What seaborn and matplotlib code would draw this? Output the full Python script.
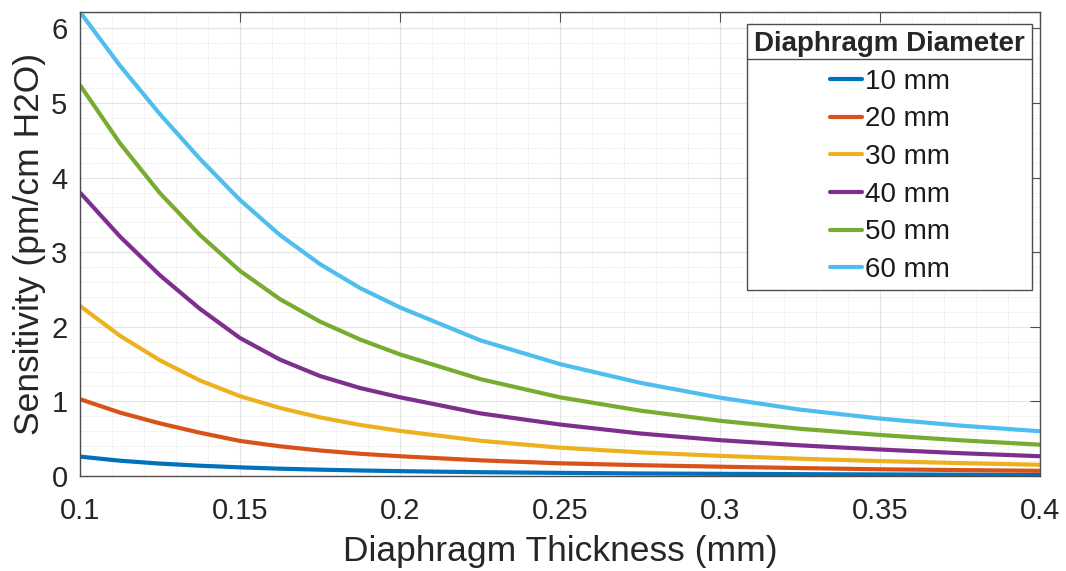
import numpy as np
import pandas as pd
import matplotlib
matplotlib.use("Agg")
import matplotlib.pyplot as plt
import seaborn as sns
from matplotlib.lines import Line2D
from matplotlib.ticker import MultipleLocator, FixedLocator, FixedFormatter

# ---- data ----
thickness = [0.1, 0.1125, 0.125, 0.1375, 0.15, 0.1625, 0.175, 0.1875, 0.2,
             0.225, 0.25, 0.275, 0.3, 0.325, 0.35, 0.375, 0.4]
sens_10mm = [0.26, 0.205, 0.166, 0.138, 0.116, 0.098, 0.085, 0.074, 0.065,
             0.051, 0.042, 0.034, 0.029, 0.025, 0.021, 0.018, 0.016]
sens_20mm = [1.03, 0.85, 0.705, 0.58, 0.47, 0.398, 0.342, 0.298, 0.265,
             0.21, 0.17, 0.145, 0.125, 0.106, 0.09, 0.079, 0.07]
sens_30mm = [2.28, 1.88, 1.55, 1.28, 1.07, 0.912, 0.786, 0.685, 0.605,
             0.473, 0.38, 0.317, 0.27, 0.232, 0.20, 0.173, 0.15]
sens_40mm = [3.80, 3.21, 2.69, 2.24, 1.85, 1.56, 1.34, 1.18, 1.055,
             0.84, 0.69, 0.57, 0.48, 0.411, 0.355, 0.306, 0.265]
sens_50mm = [5.24, 4.46, 3.79, 3.23, 2.75, 2.37, 2.07, 1.83, 1.63,
             1.30, 1.055, 0.877, 0.74, 0.633, 0.55, 0.479, 0.42]
sens_60mm = [6.22, 5.50, 4.85, 4.25, 3.70, 3.23, 2.84, 2.52, 2.26,
             1.82, 1.50, 1.25, 1.05, 0.89, 0.77, 0.676, 0.60]
diameter_labels = ["10 mm", "20 mm", "30 mm", "40 mm", "50 mm", "60 mm"]
x_tick_values = [0.1, 0.15, 0.2, 0.25, 0.3, 0.35, 0.4]
x_tick_labels = ["0.1", "0.15", "0.2", "0.25", "0.3", "0.35", "0.4"]
y_tick_values = [0, 1, 2, 3, 4, 5, 6]

series = [sens_10mm, sens_20mm, sens_30mm, sens_40mm, sens_50mm, sens_60mm]
df = pd.concat(
    [pd.DataFrame({"t": thickness, "s": vals, "d": lab})
     for vals, lab in zip(series, diameter_labels)],
    ignore_index=True,
)

palette = ["#0072BD", "#D95319", "#EDB120", "#7E2F8E", "#77AC30", "#4DBEEE"]

sns.set_style("white")
plt.rcParams["font.family"] = ["Liberation Sans", "DejaVu Sans"]

fig = plt.figure(figsize=(10.66, 5.71), dpi=100)
ax = fig.add_axes([80 / 1066, 1 - 476 / 571, 960 / 1066, 464 / 571])

sns.lineplot(data=df, x="t", y="s", hue="d", palette=palette,
             linewidth=3, ax=ax, legend=False, sort=False)
for ln in ax.get_lines():
    ln.set_solid_joinstyle("round")
    ln.set_solid_capstyle("butt")

ax.set_xlim(0.1, 0.4)
ax.set_ylim(0, 6.22)
ax.xaxis.set_major_locator(FixedLocator(x_tick_values))
ax.xaxis.set_major_formatter(FixedFormatter(x_tick_labels))
ax.yaxis.set_major_locator(FixedLocator(y_tick_values))
ax.xaxis.set_minor_locator(MultipleLocator(0.01))
ax.yaxis.set_minor_locator(MultipleLocator(0.2))

ax.grid(which="major", color="#262626", alpha=0.12, linewidth=0.8, linestyle="-")
ax.grid(which="minor", color="#262626", alpha=0.15, linewidth=0.6, linestyle=":")
ax.set_axisbelow(True)

for sp in ax.spines.values():
    sp.set_visible(True)
    sp.set_color("#4d4d4d")
    sp.set_linewidth(1.0)

ax.tick_params(which="major", direction="in", length=7, width=0.8,
               color="#4d4d4d", labelsize=21, labelcolor="#262626",
               top=True, right=True)
ax.tick_params(axis="x", which="major", pad=15)
ax.tick_params(axis="y", which="major", pad=9)
ax.tick_params(which="minor", length=0, top=True, right=True)

ax.set_xlabel("Diaphragm Thickness (mm)", fontsize=25.5, color="#262626", labelpad=7)
ax.set_ylabel("Sensitivity (pm/cm H2O)", fontsize=25.5, color="#262626", labelpad=4)

handles = [Line2D([0], [0], color=c, linewidth=3) for c in palette]
leg = ax.legend(handles, diameter_labels, title="Diaphragm Diameter",
                loc="upper right", bbox_to_anchor=(1 - 8 / 960, 1 - 12 / 464),
                borderaxespad=0, fontsize=20,
                title_fontproperties={"weight": "bold", "size": 20},
                frameon=True, fancybox=False, framealpha=1,
                edgecolor="#4d4d4d", handlelength=1.15, handletextpad=0.1,
                labelspacing=0.42, borderpad=0.25)
leg.get_frame().set_linewidth(1.0)
for t in leg.get_texts():
    t.set_color("#1a1a1a")

# separator line under the legend title (MATLAB style)
fig.canvas.draw()
renderer = fig.canvas.get_renderer()
tb = leg.get_title().get_window_extent(renderer)
fb = leg.get_frame().get_window_extent(renderer)
ysep = tb.y0 - 2
inv = fig.transFigure.inverted()
(x0f, yf), (x1f, _) = inv.transform([(fb.x0, ysep), (fb.x1, ysep)])
fig.add_artist(Line2D([x0f, x1f], [yf, yf], transform=fig.transFigure,
                      color="#4d4d4d", linewidth=1.0, zorder=10))

fig.savefig("out.png", dpi=100)
